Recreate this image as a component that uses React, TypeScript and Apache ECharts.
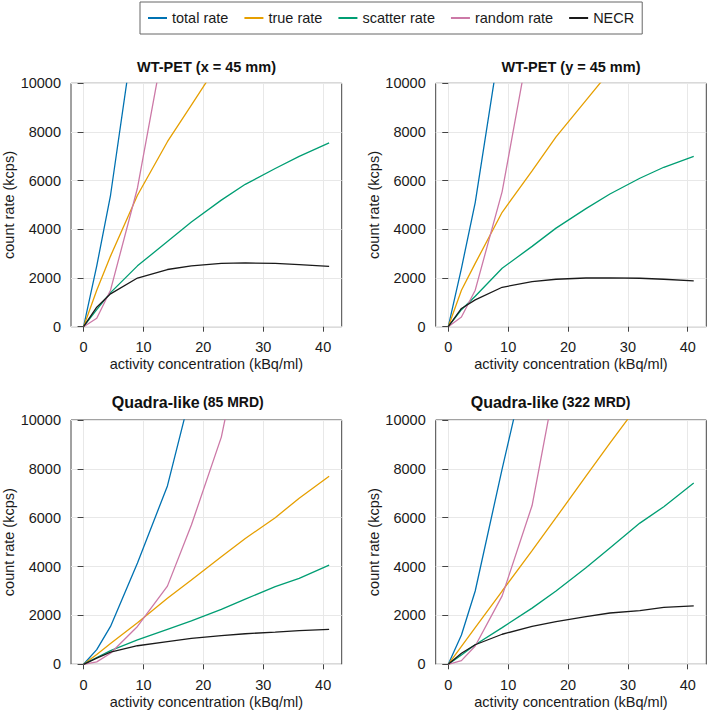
import React, { useEffect, useRef } from 'react';
import * as echarts from 'echarts';

const FONT = '"Liberation Sans", Arial, Helvetica, sans-serif';

const activity = [0, 2.2, 4.5, 9, 14, 18, 23, 27, 32, 36, 41];
const seriesNames = ['total rate', 'true rate', 'scatter rate', 'random rate', 'NECR'];
const seriesColors = ['#0072B2', '#E69F00', '#009E73', '#CC79A7', '#1a1a1a'];
const xTicks = [0, 10, 20, 30, 40];

// WT-PET (x = 45 mm)
const wtxTotal = [0, 2500, 5400, 13100, null, null, null, null, null, null, null];
const wtxTrue = [0, 1500, 2900, 5400, 7600, 9100, 11000, null, null, null, null];
const wtxScatter = [0, 700, 1400, 2500, 3500, 4300, 5200, 5850, 6500, 7000, 7550];
const wtxRandom = [0, 350, 1500, 5700, 12400, null, null, null, null, null, null];
const wtxNecr = [0, 800, 1350, 2000, 2350, 2500, 2600, 2620, 2600, 2550, 2480];

// WT-PET (y = 45 mm)
const wtyTotal = [0, 2400, 5100, 12200, null, null, null, null, null, null, null];
const wtyTrue = [0, 1500, 2600, 4700, 6400, 7800, 9300, 10500, null, null, null];
const wtyScatter = [0, 700, 1250, 2400, 3300, 4050, 4850, 5450, 6100, 6550, 7000];
const wtyRandom = [0, 400, 1500, 5550, 12300, null, null, null, null, null, null];
const wtyNecr = [0, 750, 1100, 1620, 1850, 1950, 2000, 2010, 1990, 1950, 1880];

// Quadra-like (85 MRD)
const q85Total = [0, 600, 1550, 4150, 7300, 11200, null, null, null, null, null];
const q85True = [0, 400, 850, 1700, 2700, 3450, 4400, 5150, 6000, 6800, 7700];
const q85Scatter = [0, 280, 560, 1000, 1430, 1780, 2250, 2670, 3180, 3520, 4060];
const q85Random = [0, 100, 450, 1550, 3200, 5700, 9300, 14000, null, null, null];
const q85Necr = [0, 250, 500, 760, 930, 1060, 1170, 1250, 1320, 1380, 1430];

// Quadra-like (322 MRD)
const q322Total = [0, 1200, 3000, 8000, 13300, null, null, null, null, null, null];
const q322True = [0, 730, 1500, 3000, 4650, 6000, 7700, 9050, 10700, null, null];
const q322Scatter = [0, 380, 800, 1500, 2300, 3000, 3950, 4760, 5780, 6450, 7420];
const q322Random = [0, 150, 750, 2800, 6500, 11700, null, null, null, null, null];
const q322Necr = [0, 450, 800, 1230, 1550, 1750, 1950, 2100, 2200, 2330, 2390];

const panels = [
  [wtxTotal, wtxTrue, wtxScatter, wtxRandom, wtxNecr],
  [wtyTotal, wtyTrue, wtyScatter, wtyRandom, wtyNecr],
  [q85Total, q85True, q85Scatter, q85Random, q85Necr],
  [q322Total, q322True, q322Scatter, q322Random, q322Necr],
];

const gridRects = [
  { left: 71, top: 83.3, width: 270.7, height: 243.4 },
  { left: 435.7, top: 83.3, width: 270.6, height: 243.4 },
  { left: 71, top: 420, width: 270.7, height: 244.3 },
  { left: 435.7, top: 420, width: 270.6, height: 244.3 },
];

export default function App() {
  const ref = useRef<HTMLDivElement>(null);
  useEffect(() => {
    if (!ref.current) return;
    const chart = echarts.init(ref.current, null, { renderer: 'svg' });
    const axisColor = '#444';
    const gridColor = '#e8e8e8';
    const textColor = '#1a1a1a';

    const grids = gridRects.map((g) => ({
      ...g,
      show: true,
      borderColor: axisColor,
      borderWidth: 1,
      backgroundColor: 'transparent',
      containLabel: false,
    }));

    const xAxes = gridRects.map((_, i) => ({
      gridIndex: i,
      type: 'value',
      min: -2.1,
      max: 43.1,
      axisLine: { show: false },
      axisTick: { show: true, length: 5, customValues: xTicks, lineStyle: { color: axisColor } },
      axisLabel: { customValues: xTicks, margin: 13, fontSize: 14.5, color: textColor, fontFamily: FONT },
      splitLine: { show: true, lineStyle: { color: gridColor, width: 1 } },
      name: 'activity concentration (kBq/ml)',
      nameLocation: 'middle',
      nameGap: 30,
      nameTextStyle: { fontSize: 14.5, color: textColor, fontFamily: FONT },
    }));

    const yAxes = gridRects.map((_, i) => ({
      gridIndex: i,
      type: 'value',
      min: 0,
      max: 10000,
      interval: 2000,
      axisLine: { show: false },
      axisTick: { show: true, length: 6, lineStyle: { color: axisColor } },
      axisLabel: {
        margin: 10,
        fontSize: 14.5,
        color: textColor,
        fontFamily: FONT,
        formatter: (v: number) => String(v),
      },
      splitLine: { show: true, lineStyle: { color: gridColor, width: 1 } },
      name: 'count rate (kcps)',
      nameLocation: 'middle',
      nameGap: 54,
      nameTextStyle: { fontSize: 14.5, color: textColor, fontFamily: FONT },
    }));

    const series: any[] = [];
    panels.forEach((panel, pi) => {
      panel.forEach((vals, si) => {
        series.push({
          type: 'line',
          name: seriesNames[si],
          xAxisIndex: pi,
          yAxisIndex: pi,
          symbol: 'none',
          clip: true,
          data: activity.map((x, k) => [x, vals[k]]),
          lineStyle: { width: 1.3, color: seriesColors[si] },
          itemStyle: { color: seriesColors[si] },
          z: 2 + si,
        });
      });
    });

    const titleStyle = { fontFamily: FONT, fontWeight: 'bold', fill: '#111' };
    const rich = {
      a: { fontSize: 16, fontWeight: 'bold', fontFamily: FONT, fill: '#111' },
      b: { fontSize: 14, fontWeight: 'bold', fontFamily: FONT, fill: '#111' },
    };

    chart.setOption({
      animation: false,
      backgroundColor: '#fff',
      legend: {
        data: seriesNames,
        left: 140,
        top: 2,
        orient: 'horizontal',
        icon: 'rect',
        itemGap: 16,
        itemWidth: 19,
        itemHeight: 2,
        padding: [8, 8],
        borderColor: '#666',
        borderWidth: 1,
        backgroundColor: '#fff',
        textStyle: { fontSize: 14.5, color: textColor, fontFamily: FONT, lineHeight: 16 },
      },
      grid: grids,
      xAxis: xAxes,
      yAxis: yAxes,
      series,
      graphic: [
        {
          type: 'text', x: 206.5, y: 67,
          style: { ...titleStyle, text: 'WT-PET (x = 45 mm)', fontSize: 14.5, align: 'center', verticalAlign: 'middle' },
        },
        {
          type: 'text', x: 571, y: 67,
          style: { ...titleStyle, text: 'WT-PET (y = 45 mm)', fontSize: 14.5, align: 'center', verticalAlign: 'middle' },
        },
        {
          type: 'text', x: 111.7, y: 402,
          style: { ...titleStyle, text: '{a|Quadra-like} {b|(85 MRD)}', align: 'left', verticalAlign: 'middle', rich },
        },
        {
          type: 'text', x: 470.7, y: 402,
          style: { ...titleStyle, text: '{a|Quadra-like} {b|(322 MRD)}', align: 'left', verticalAlign: 'middle', rich },
        },
      ],
    });
    return () => chart.dispose();
  }, []);

  return (
    <div
      ref={ref}
      style={{ position: 'absolute', left: 0, top: 0, width: 708, height: 712 }}
    />
  );
}
